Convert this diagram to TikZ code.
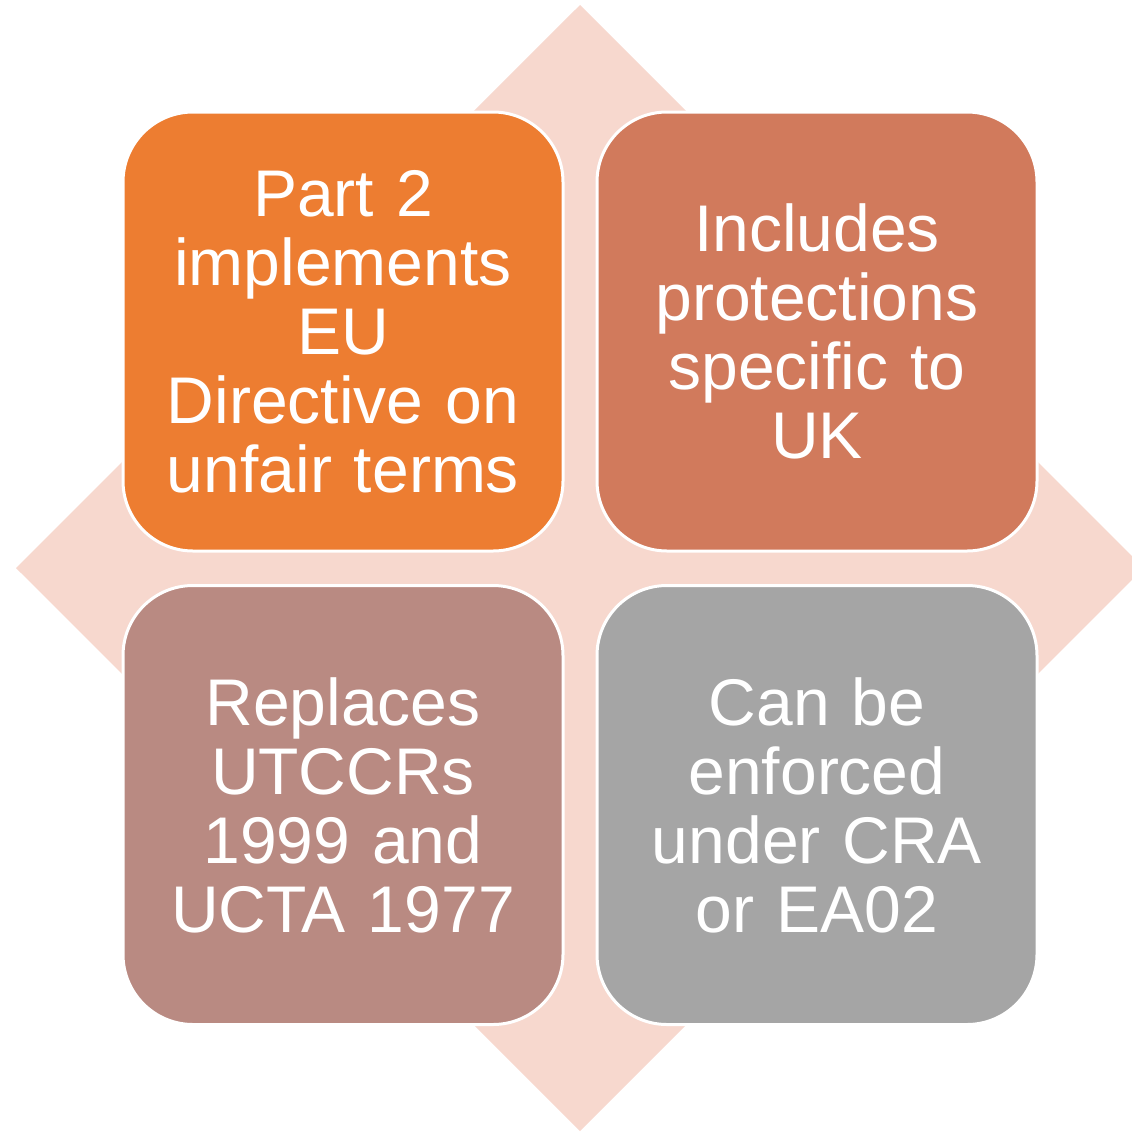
\documentclass[tikz,border=0pt]{standalone}
\usepackage{fontspec}
\setmainfont{Liberation Sans}
\definecolor{diamondfill}{HTML}{F7D8CE}
\definecolor{cellA}{HTML}{ED7D31}
\definecolor{cellB}{HTML}{D17A5C}
\definecolor{cellC}{HTML}{B98A82}
\definecolor{cellD}{HTML}{A5A5A5}
\tikzset{
  cell/.style={rectangle, rounded corners=70pt, draw=white, line width=3pt,
    minimum width=440pt, minimum height=439pt, inner sep=0pt,
    text=white, align=center, text width=430pt,
    font=\fontsize{66}{69}\selectfont}
}
\begin{document}
\begin{tikzpicture}[x=1pt,y=-1pt]
\useasboundingbox (0,0) rectangle (1132,1133);
% background diamond, cut off by the page edge
\begin{scope}
  \clip (0,0) rectangle (1132,1133);
  \fill[diamondfill] (580,5) -- (1144,568) -- (580,1131) -- (16,568) -- cycle;
\end{scope}
% four rounded cells
\node[cell, fill=cellA] (tl) at (343,331.5) {Part 2\\implements\\EU\\Directive on\\unfair terms};
\node[cell, fill=cellB] (tr) at (817,331.5) {Includes\\protections\\specific to\\UK};
\node[cell, fill=cellC] (bl) at (343,805) {Replaces\\UTCCRs\\1999 and\\UCTA 1977};
\node[cell, fill=cellD] (br) at (817,805) {Can be\\enforced\\under CRA\\or EA02};
\end{tikzpicture}
\end{document}
